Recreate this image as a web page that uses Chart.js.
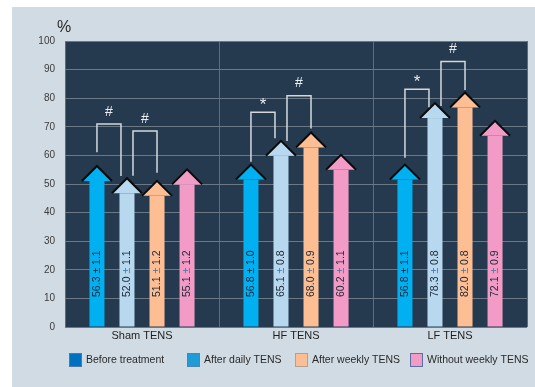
<!DOCTYPE html>
<html>
<head>
<meta charset="utf-8">
<script src="https://cdn.jsdelivr.net/npm/chart.js@4"></script>
<style>
  html, body { margin: 0; padding: 0; background: #ffffff; }
  #wrap { width: 535px; height: 387px; }
</style>
</head>
<body>
<div id="wrap"><canvas id="myChart" width="535" height="387"></canvas></div>
<script>
const groups = ['Sham TENS', 'HF TENS', 'LF TENS'];
const seriesNames = ['Before treatment', 'After daily TENS', 'After weekly TENS', 'Without weekly TENS'];

// mean values, %
const beforeTreatment = [56.3, 56.8, 56.8];
const afterDaily = [52.0, 65.1, 78.3];
const afterWeekly = [51.1, 68.0, 82.0];
const withoutWeekly = [55.1, 60.2, 72.1];

// +/- values
const sdBefore = [1.1, 1.0, 1.1];
const sdDaily = [1.1, 0.8, 0.8];
const sdWeekly = [1.2, 0.9, 0.8];
const sdWithout = [1.2, 1.1, 0.9];

const yTicks = [0, 10, 20, 30, 40, 50, 60, 70, 80, 90, 100];

// significance brackets (series index pairs inside a group, heights in %)
const bracketGroup = [0, 0, 1, 1, 2, 2];
const bracketFrom = [0, 1, 0, 1, 0, 1];
const bracketTo = [1, 2, 1, 2, 1, 2];
const bracketTop = [71.0, 68.5, 75.1, 80.9, 83.1, 92.8];
const bracketFromEnd = [61.1, 52.9, 57.8, 65.0, 59.2, 77.3];
const bracketToEnd = [52.8, 53.9, 66.0, 69.4, 76.8, 82.9];
const bracketMark = ['#', '#', '*', '#', '*', '#'];

const barColors = ['#00b0f0', '#b7d8ee', '#fdbe94', '#f29bc6'];
const legendColors = ['#0070c0', '#1f9bd7', '#fcbf95', '#f29bc6'];
const legendBorders = ['#4a7aa8', '#4a86b0', '#b9a08c', '#5a6fa0'];

const values = [beforeTreatment, afterDaily, afterWeekly, withoutWeekly];
const errors = [sdBefore, sdDaily, sdWeekly, sdWithout];

const FONT = '"Liberation Sans", Arial, sans-serif';

// page panel, dark plot area, % unit and the key below the axis
const backdrop = {
  id: 'backdrop',
  beforeDraw(chart) {
    const {ctx, chartArea: a, width, height} = chart;
    ctx.save();
    ctx.fillStyle = '#ffffff';
    ctx.fillRect(0, 0, width, height);
    ctx.fillStyle = '#d1dbe3';
    ctx.fillRect(12, 7, width - 12, height - 7);
    ctx.fillStyle = '#263a4f';
    ctx.fillRect(a.left, a.top, a.right - a.left, a.bottom - a.top);
    ctx.restore();
  },
  afterDraw(chart) {
    const {ctx, chartArea: a} = chart;
    ctx.save();
    ctx.fillStyle = '#2b2b2b';
    ctx.font = '16px ' + FONT;
    ctx.textAlign = 'center';
    ctx.textBaseline = 'alphabetic';
    ctx.fillText('%', a.left - 1, a.top - 9);

    const keyX = [69, 187, 295, 410];
    const keyTop = a.bottom + 26;
    ctx.font = '10.5px ' + FONT;
    ctx.textAlign = 'left';
    ctx.textBaseline = 'middle';
    seriesNames.forEach((name, i) => {
      ctx.fillStyle = legendColors[i];
      ctx.fillRect(keyX[i], keyTop, 13, 14);
      ctx.strokeStyle = legendBorders[i];
      ctx.lineWidth = 1;
      ctx.strokeRect(keyX[i] + 0.5, keyTop + 0.5, 12, 13);
      ctx.fillStyle = '#2a2a2a';
      ctx.fillText(name, keyX[i] + 17, keyTop + 7.5);
    });
    ctx.restore();
  }
};

// bars drawn as upward arrows, value labels written up the shaft
const arrows = {
  id: 'arrows',
  afterDatasetsDraw(chart) {
    const ctx = chart.ctx;
    const y = chart.scales.y;
    const headH = 15;
    ctx.save();
    chart.data.datasets.forEach((ds, di) => {
      const meta = chart.getDatasetMeta(di);
      meta.data.forEach((bar, i) => {
        const w = bar.width;
        const hw = w;
        const x = bar.x;
        const tip = bar.y;
        const neck = tip + headH;
        ctx.fillStyle = barColors[di];
        ctx.fillRect(x - w / 2, neck, w, bar.base - neck);
        ctx.beginPath();
        ctx.moveTo(x, tip);
        ctx.lineTo(x + hw, neck);
        ctx.lineTo(x - hw, neck);
        ctx.closePath();
        ctx.fill();
        ctx.beginPath();
        ctx.moveTo(x - hw, neck);
        ctx.lineTo(x, tip);
        ctx.lineTo(x + hw, neck);
        ctx.lineWidth = 2;
        ctx.lineJoin = 'miter';
        ctx.strokeStyle = '#0a0a0a';
        ctx.stroke();

        // label
        const v = values[di][i].toFixed(1);
        const e = errors[di][i].toFixed(1);
        ctx.save();
        ctx.translate(x + 0.5, y.getPixelForValue(10.5));
        ctx.rotate(-Math.PI / 2);
        ctx.font = '10.5px ' + FONT;
        ctx.textBaseline = 'middle';
        ctx.textAlign = 'left';
        const p1 = v + ' ';
        const p2 = '\u00b1';
        const p3 = ' ' + e;
        let cx = 0;
        ctx.fillStyle = '#1b2633';
        ctx.fillText(p1, cx, 0);
        cx += ctx.measureText(p1).width;
        ctx.fillStyle = di === 0 ? '#1b2633' : '#3f76a6';
        ctx.fillText(p2, cx, 0);
        cx += ctx.measureText(p2).width;
        ctx.fillStyle = '#1b2633';
        ctx.fillText(p3, cx, 0);
        ctx.restore();
      });
    });
    ctx.restore();
  }
};

// significance brackets over the arrows
const brackets = {
  id: 'brackets',
  afterDatasetsDraw(chart) {
    const ctx = chart.ctx;
    const y = chart.scales.y;
    const centre = (g, s) => chart.getDatasetMeta(s).data[g].x;
    ctx.save();
    ctx.strokeStyle = '#d4d8dc';
    ctx.lineWidth = 1.5;
    bracketTop.forEach((top, k) => {
      const g = bracketGroup[k];
      let x1 = centre(g, bracketFrom[k]);
      let x2 = centre(g, bracketTo[k]);
      for (let m = 0; m < bracketTop.length; m++) {
        if (m === k || bracketGroup[m] !== g) continue;
        if (bracketTo[m] === bracketFrom[k]) x1 += 6;
        if (bracketFrom[m] === bracketTo[k]) x2 -= 6;
      }
      const yt = y.getPixelForValue(top);
      ctx.beginPath();
      ctx.moveTo(x1, y.getPixelForValue(bracketFromEnd[k]));
      ctx.lineTo(x1, yt);
      ctx.lineTo(x2, yt);
      ctx.lineTo(x2, y.getPixelForValue(bracketToEnd[k]));
      ctx.stroke();

      ctx.fillStyle = '#e8ecef';
      ctx.textAlign = 'center';
      ctx.textBaseline = 'middle';
      const star = bracketMark[k] === '*';
      ctx.font = (star ? '17px ' : '14px ') + FONT;
      ctx.fillText(bracketMark[k], (x1 + x2) / 2, yt - (star ? 7 : 12));
    });
    ctx.restore();
  }
};

new Chart(document.getElementById('myChart'), {
  type: 'bar',
  data: {
    labels: groups,
    datasets: seriesNames.map((name, i) => ({
      label: name,
      data: values[i],
      backgroundColor: 'rgba(0,0,0,0)',
      borderWidth: 0,
      categoryPercentage: 0.78,
      barPercentage: 0.5
    }))
  },
  options: {
    responsive: false,
    animation: false,
    events: [],
    layout: { padding: { left: 12, top: 41, right: 8, bottom: 38 } },
    scales: {
      x: {
        grid: { color: '#5d6b7a', lineWidth: 1, offset: true, drawTicks: false },
        border: { display: false },
        ticks: { color: '#1e1e1e', font: { family: FONT, size: 11 }, padding: 2 },
        afterFit(scale) { scale.height = 22; }
      },
      y: {
        min: 0,
        max: 100,
        afterBuildTicks(scale) { scale.ticks = yTicks.map(v => ({ value: v })); },
        grid: { color: '#6b7987', lineWidth: 1, drawTicks: false },
        border: { display: false },
        ticks: { color: '#3c3c3c', font: { family: FONT, size: 10 }, padding: 10 },
        afterFit(scale) { scale.width = 53; }
      }
    },
    plugins: {
      tooltip: { enabled: false },
      legend: { display: false }
    }
  },
  plugins: [backdrop, arrows, brackets]
});
</script>
</body>
</html>
